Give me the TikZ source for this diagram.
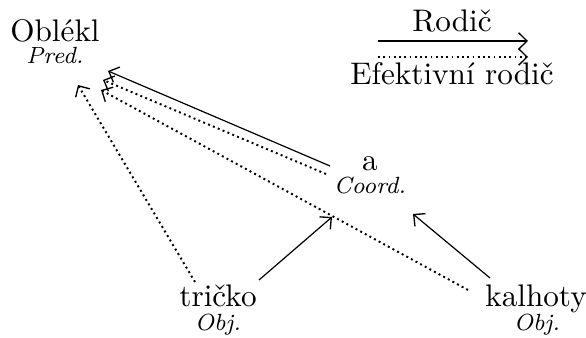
\documentclass[tikz,border=0pt]{standalone}
\usetikzlibrary{arrows.meta}
\begin{document}
\begin{tikzpicture}[x=0.3333pt,y=-0.3333pt,
  word/.style={anchor=base,inner sep=0pt,font=\fontsize{10.4}{13}\selectfont},
  func/.style={anchor=base,inner sep=0pt,font=\fontsize{7.8}{9}\selectfont\itshape},
  tip/.tip={Straight Barb[length=2.8pt,width=5.5pt,line width=0.45pt]},
  par/.style={line width=0.4pt,-tip},
  eff/.style={line width=0.65pt,dash pattern=on 0.65pt off 1.1pt,-tip}]
\useasboundingbox (0,0) rectangle (586,338);
% words
\node[word] (oblekl) at (55,42) {Oblékl};
\node[func] (pred) at (55,64) {Pred.};
\node[word] (a) at (370,171) {a};
\node[func] (coord) at (370,194) {Coord.};
\node[word] (tricko) at (218,307) {tričko};
\node[func] (objt) at (218,331) {Obj.};
\node[word] (kalhoty) at (536,307) {kalhoty};
\node[func] (objk) at (537,331) {Obj.};
% legend
\node[word] (rodic) at (452,32) {Rodič};
\node[word] (efrodic) at (452,85) {Efektivní rodič};
\coordinate (l1a) at (378,41); \coordinate (l1b) at (528,41);
\coordinate (l2a) at (378,57); \coordinate (l2b) at (528,57);
\draw[par,line width=0.6pt] (l1a) -- (l1b);
\draw[eff] (l2a) -- (l2b);
% connector endpoints
\coordinate (o1) at (108,71);
\coordinate (o2) at (103,80);
\coordinate (o3) at (101,90);
\coordinate (o4) at (78,85);
\coordinate (a1) at (330,166);
\coordinate (a2) at (326,174);
\coordinate (a3) at (332,217);
\coordinate (a4) at (413,214);
\coordinate (t1) at (195,282);
\coordinate (t2) at (259,280);
\coordinate (k1) at (468,290);
\coordinate (k2) at (490,278);
% edges
\draw[par] (a1) -- (o1);
\draw[eff] (a2) -- (o2);
\draw[eff] (k1) -- (o3);
\draw[eff] (t1) -- (o4);
\draw[par] (t2) -- (a3);
\draw[par] (k2) -- (a4);
\end{tikzpicture}
\end{document}
